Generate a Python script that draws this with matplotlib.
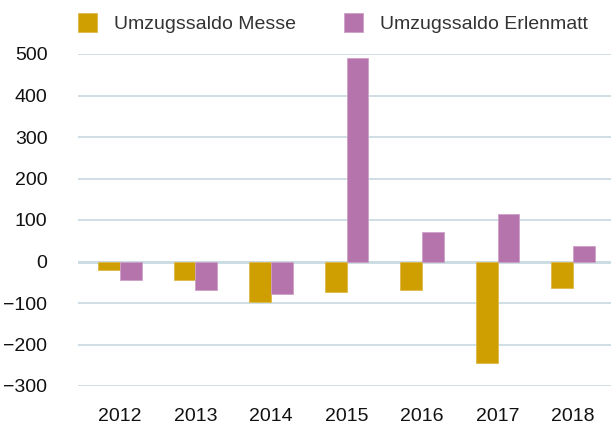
import numpy as np
import matplotlib.pyplot as plt

plt.rcParams['font.family'] = ['Liberation Sans', 'DejaVu Sans']

# data
years = ['2012', '2013', '2014', '2015', '2016', '2017', '2018']
saldo_messe = [-21, -45, -98, -74, -69, -244, -64]
saldo_erlenmatt = [-45, -69, -79, 491, 71, 115, 38]

col_messe = '#CF9E00'
col_erlen = '#B574AB'
text_col = '#111111'

W, H = 611, 425
fig = plt.figure(figsize=(W / 100, H / 100), dpi=100)
# plot area in pixels: x 78..611, y 54..386
ax = fig.add_axes([78 / W, (H - 386) / H, (W - 78) / W, 332 / H])

x = np.arange(len(years))
w = 0.29
ax.bar(x - w/2, saldo_messe, w, color=col_messe, edgecolor='#DDB94A', linewidth=0.6,
       label='Umzugssaldo Messe', zorder=3)
ax.bar(x + w/2, saldo_erlenmatt, w, color=col_erlen, edgecolor='#CDA0C6', linewidth=0.6,
       label='Umzugssaldo Erlenmatt', zorder=3)

ax.set_ylim(-300, 500)
ax.set_yticks(range(-300, 501, 100))
ax.set_xlim(-0.556, 6.503)
ax.set_xticks(x)
ax.set_xticklabels(years)
ax.yaxis.grid(True, color='#CCDCE3', linewidth=1.3, zorder=0)
ax.axhline(0, color='#BDD3DC', linewidth=1.8, zorder=1)
for s in ax.spines.values():
    s.set_visible(False)
ax.tick_params(axis='both', length=0, labelsize=14, colors=text_col)
ax.tick_params(axis='y', pad=22)
ax.tick_params(axis='x', pad=16)

fig.legend(loc='center left', bbox_to_anchor=(78 / W, 1 - 23 / H), ncol=2, frameon=False,
           fontsize=14, handlelength=1.0, handleheight=1.08, handletextpad=0.87,
           columnspacing=2.45, borderpad=0, borderaxespad=0, labelcolor='#333333')

fig.savefig('out.png', dpi=100)
